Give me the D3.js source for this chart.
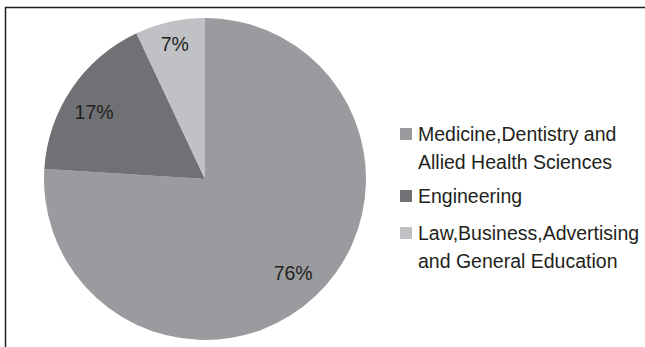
<!DOCTYPE html>
<html>
<head>
<meta charset="utf-8">
<script src="https://cdn.jsdelivr.net/npm/d3@7"></script>
<style>
    body { margin: 0; background: #fff; }
    svg text { font-family: "Liberation Sans", Arial, sans-serif; fill: #231f20; }
</style>
</head>
<body>
<div id="chart"></div>
<script>
// fields of study, share in percent
const categories = ["Medicine,Dentistry and Allied Health Sciences", "Engineering", "Law,Business,Advertising and General Education"];
const legendLines = [["Medicine,Dentistry and", "Allied Health Sciences"], ["Engineering"], ["Law,Business,Advertising", "and General Education"]];
const values = [76, 17, 7];
const colors = ["#9a9b9e", "#707174", "#c0c1c4"];

const data = categories.map((c, i) => ({ name: c, value: values[i], color: colors[i], lines: legendLines[i] }));

const width = 645;
const height = 347;

const svg = d3.select("#chart")
    .append("svg")
    .attr("width", width)
    .attr("height", height);

// frame: only top and left edges show in the picture
svg.append("path")
    .attr("d", `M5.5,${height} V7.5 H${width}`)
    .attr("fill", "none")
    .attr("stroke", "#231f20")
    .attr("stroke-width", 1.5);

const cx = 205, cy = 179, radius = 161;

const pie = d3.pie()
    .value(d => d.value)
    .sort(null);

const arc = d3.arc()
    .innerRadius(0)
    .outerRadius(radius);

const pieGroup = svg.append("g")
    .attr("transform", `translate(${cx},${cy})`);

const slices = pie(data);

pieGroup.selectAll("path")
    .data(slices)
    .join("path")
    .attr("d", arc)
    .attr("fill", d => d.data.color);

// label placement: fraction of radius, and small angle nudge (degrees)
const labelRadius = [0.80, 0.805, 0.86];
const labelNudge = [0, -3, 0];
pieGroup.selectAll("text")
    .data(slices)
    .join("text")
    .attr("transform", (d, i) => {
        const a = (d.startAngle + d.endAngle) / 2 + labelNudge[i] * Math.PI / 180;
        const r = radius * labelRadius[i];
        return `translate(${Math.sin(a) * r},${-Math.cos(a) * r})`;
    })
    .attr("text-anchor", "middle")
    .attr("dy", "0.36em")
    .style("font-size", "19.5px")
    .text(d => d.data.value + "%");

// legend
const legendTop = [128, 190, 227];
const legend = svg.selectAll(".legend")
    .data(data)
    .join("g")
    .attr("class", "legend")
    .attr("transform", (d, i) => `translate(400,${legendTop[i]})`);

legend.append("rect")
    .attr("width", 12)
    .attr("height", 12)
    .attr("fill", d => d.color);

legend.append("text")
    .attr("x", 18)
    .attr("y", 13)
    .style("font-size", "19.5px")
    .selectAll("tspan")
    .data(d => d.lines)
    .join("tspan")
    .attr("x", 18)
    .attr("dy", (d, i) => i === 0 ? 0 : 27.5)
    .text(d => d);
</script>
</body>
</html>
